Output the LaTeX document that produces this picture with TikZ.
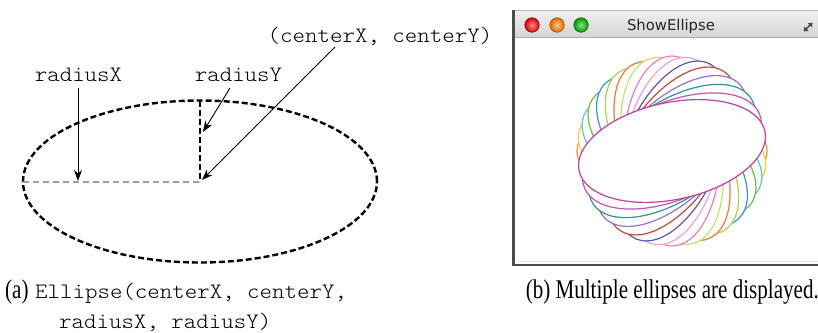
\documentclass[tikz,border=0pt]{standalone}
\usepackage{fontspec}
\usetikzlibrary{arrows.meta,shapes.geometric,calc}
\newfontfamily\courfont[FakeStretch=1.08]{Latin Modern Mono Light}
\newfontfamily\capfont[FakeStretch=0.78]{Liberation Serif}
\newfontfamily\winfont{DejaVu Sans}
\definecolor{c0}{HTML}{F08A3C}
\definecolor{c1}{HTML}{EAD62A}
\definecolor{c2}{HTML}{62C2CA}
\definecolor{c3}{HTML}{72B844}
\definecolor{c4}{HTML}{3A92D2}
\definecolor{c5}{HTML}{AAD256}
\definecolor{c6}{HTML}{F27A34}
\definecolor{c7}{HTML}{C8E072}
\definecolor{c8}{HTML}{F07EB0}
\definecolor{c9}{HTML}{F2A2C8}
\definecolor{c10}{HTML}{6252B2}
\definecolor{c11}{HTML}{C24A34}
\definecolor{c12}{HTML}{9274CA}
\definecolor{c13}{HTML}{32929A}
\definecolor{c14}{HTML}{C654B4}
\definecolor{c15}{HTML}{C040A2}
\begin{document}
\begin{tikzpicture}[x=1pt,y=-1pt,
  code/.style={font=\courfont\fontsize{22}{26}\selectfont, inner sep=0pt},
  capt/.style={font=\capfont\fontsize{27}{30}\selectfont, inner sep=0pt},
  pointer/.style={-{Stealth[length=11pt,width=8pt,inset=3.5pt]}, line width=0.9pt},
  bigell/.style={ellipse, draw, line width=2.4pt, dash pattern=on 6pt off 3pt,
    minimum width=354pt, minimum height=162pt, inner sep=0pt},
  grayline/.style={gray!75, line width=1.3pt, dash pattern=on 6pt off 4pt},
  blackline/.style={black, line width=2.4pt, dash pattern=on 6pt off 3pt},
  ring/.style={line width=1.2pt, fill=white},
  light/.style={draw=#1!60!black, line width=0.5pt, inner color=#1!45, outer color=#1!85!black}
]
\useasboundingbox (0,0) rectangle (818,332);

% ---------- (a) ellipse ----------
\node[bigell] (E) at (200,181.5) {};
\coordinate (C) at (200,182);
\coordinate (L) at (23,182);
\coordinate (T) at (200,101);
\draw[grayline] (L) -- (C);
\draw[blackline] (T) -- (C);

\node[code, anchor=base] (rx) at (78.5,81) {radiusX};
\node[code, anchor=base] (ry) at (238.5,81) {radiusY};
\node[code, anchor=base] (cxy) at (380,42) {(centerX, centerY)};

\coordinate (rxs) at (78,88);
\coordinate (rxt) at (78,181);
\coordinate (rys) at (230,88);
\coordinate (ryt) at (203,132);
\coordinate (cs) at (335,47);
\coordinate (ct) at (202,180);
\draw[pointer] (rxs) -- (rxt);
\draw[pointer] (rys) -- (ryt);
\draw[pointer] (cs) -- (ct);

% ---------- captions ----------
\node[capt, anchor=base west] (capa) at (5,298) {(a)};
\node[code, anchor=base west] (capa1) at (35,298) {Ellipse(centerX, centerY,};
\node[code, anchor=base west] (capa2) at (59,328) {radiusX, radiusY)};
\node[capt, anchor=base east] (capb) at (819,298) {(b) Multiple ellipses are displayed.};

% ---------- (b) window ----------
\fill[white] (513,10) rectangle (824,265);
\shade[top color=gray!12, bottom color=gray!33] (513,10) rectangle (824,37);
\draw[gray!65, line width=0.8pt] (513,37.5) -- (824,37.5);
\draw[gray!55, line width=0.8pt] (513,10.4) -- (824,10.4);
\draw[gray!20, line width=1pt] (516,261.5) -- (824,261.5);
\draw[gray!60!black, line width=2.6pt] (513.5,10) -- (513.5,265) -- (824,265);

\shade[light=red] (532,25) circle (7.3pt);
\shade[light=orange] (557,25) circle (7.3pt);
\shade[light=green!70!black] (581,25) circle (7.3pt);
\node[font=\winfont\fontsize{14.8}{16}\selectfont, text=black!85, anchor=base, inner sep=0pt] (title) at (671,30.5) {ShowEllipse};
\draw[gray!55!black, line width=1.4pt] (804,31) -- (812,23);
\fill[gray!55!black] (812,23) -- (812,27.5) -- (807.5,23) -- cycle;
\fill[gray!55!black] (804,31) -- (804,26.5) -- (808.5,31) -- cycle;

\coordinate (W) at (672,151);
\foreach \ang/\col in {0/c0,11/c1,22/c2,33/c3,45/c4,56/c5,67/c6,78/c7,90/c8,101/c9,112/c10,123/c11,135/c12,146/c13,157/c14,168/c15}{
  \draw[ring, draw=\col, rotate around={-\ang:(W)}] (W) ellipse [x radius=95pt, y radius=48.5pt];
}
\end{tikzpicture}
\end{document}
